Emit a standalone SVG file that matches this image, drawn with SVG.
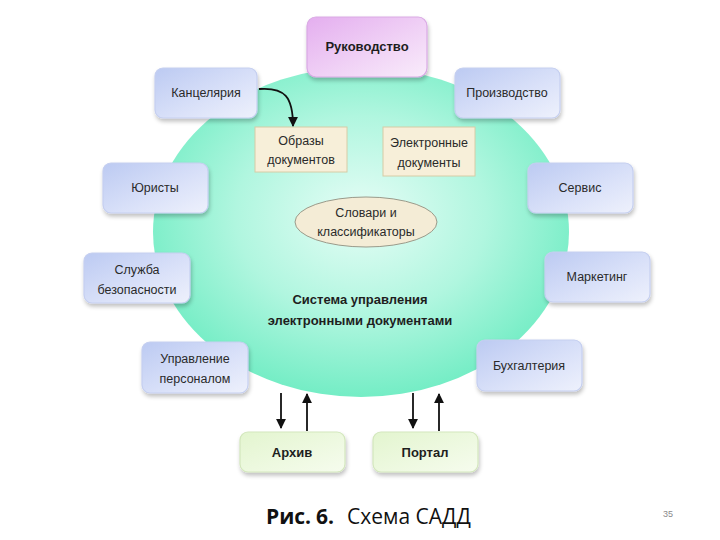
<svg xmlns="http://www.w3.org/2000/svg" width="720" height="540" viewBox="0 0 720 540">
<defs>
<radialGradient id="gEll" cx="50%" cy="45%" r="55%">
<stop offset="0" stop-color="#e6fdf6"/>
<stop offset="0.55" stop-color="#b0f6df"/>
<stop offset="1" stop-color="#74edc5"/>
</radialGradient>
<linearGradient id="gBlue" x1="0" y1="0" x2="1" y2="1">
<stop offset="0" stop-color="#bccaf2"/>
<stop offset="0.6" stop-color="#dbe2f9"/>
<stop offset="1" stop-color="#eef1fc"/>
</linearGradient>
<linearGradient id="gPink" x1="0" y1="0" x2="1" y2="1">
<stop offset="0" stop-color="#e4aeef"/>
<stop offset="0.6" stop-color="#f1d4f6"/>
<stop offset="1" stop-color="#f9ecfb"/>
</linearGradient>
<linearGradient id="gGreen" x1="0" y1="0" x2="1" y2="1">
<stop offset="0" stop-color="#e3f5cf"/>
<stop offset="1" stop-color="#f6fcee"/>
</linearGradient>
<filter id="sh" x="-10%" y="-10%" width="130%" height="140%">
<feGaussianBlur in="SourceAlpha" stdDeviation="2"/>
<feOffset dx="1" dy="3"/>
<feComponentTransfer><feFuncA type="linear" slope="0.25"/></feComponentTransfer>
<feMerge><feMergeNode/><feMergeNode in="SourceGraphic"/></feMerge>
</filter>
<marker id="ah" viewBox="0 0 10 10" refX="9" refY="5" markerWidth="5.5" markerHeight="5.5" orient="auto">
<path d="M0,0 L10,5 L0,10 z" fill="#111"/>
</marker>
<style>
.dept{fill:url(#gBlue);stroke:#c5cff0;stroke-width:1.2;filter:url(#sh)}
.top{fill:url(#gPink);stroke:#d9a9e4;stroke-width:1.2;filter:url(#sh)}
.out{fill:url(#gGreen);stroke:#d3e7bd;stroke-width:1.2;filter:url(#sh)}
.doc{fill:#f7efd9;stroke:#d6cca6;stroke-width:1}
.t{font-family:"Liberation Sans",Arial,sans-serif;font-size:12.5px;fill:#2a2a2a;text-anchor:middle}
.b{font-family:"Liberation Sans",Arial,sans-serif;font-size:13px;font-weight:bold;fill:#1e1e1e;text-anchor:middle}
.line{stroke:#111;stroke-width:1.8;fill:none;marker-end:url(#ah)}
.cap{font-family:"Open Sans","Liberation Sans",sans-serif;font-size:21px;fill:#111}
</style>
</defs>
<rect width="720" height="540" fill="#ffffff"/>

<g id="system">
<ellipse cx="361" cy="232" rx="208" ry="165" fill="url(#gEll)"/>
<text class="b" x="360" y="304">Система управления</text>
<text class="b" x="360" y="325">электронными документами</text>
</g>

<g id="rukovodstvo">
<rect class="top" x="307" y="17" width="120" height="60" rx="9"/>
<text class="b" x="367" y="51">Руководство</text>
</g>
<g id="kancelyariya">
<rect class="dept" x="155" y="68" width="102" height="50" rx="8"/>
<text class="t" x="206" y="97">Канцелярия</text>
</g>
<g id="proizvodstvo">
<rect class="dept" x="455" y="68" width="105" height="50" rx="8"/>
<text class="t" x="507" y="97">Производство</text>
</g>
<g id="yuristy">
<rect class="dept" x="103" y="163" width="105" height="50" rx="8"/>
<text class="t" x="155" y="192">Юристы</text>
</g>
<g id="servis">
<rect class="dept" x="528" y="163" width="105" height="50" rx="8"/>
<text class="t" x="580" y="192">Сервис</text>
</g>
<g id="sluzhba">
<rect class="dept" x="84" y="253" width="106" height="50" rx="8"/>
<text class="t" x="137" y="274">Служба</text>
<text class="t" x="137" y="294">безопасности</text>
</g>
<g id="marketing">
<rect class="dept" x="545" y="252" width="105" height="50" rx="8"/>
<text class="t" x="597" y="281">Маркетинг</text>
</g>
<g id="upravlenie">
<rect class="dept" x="142" y="342" width="106" height="51" rx="8"/>
<text class="t" x="195" y="363">Управление</text>
<text class="t" x="195" y="383">персоналом</text>
</g>
<g id="buhgalteriya">
<rect class="dept" x="477" y="340" width="105" height="51" rx="8"/>
<text class="t" x="529" y="370">Бухгалтерия</text>
</g>
<g id="arhiv">
<rect class="out" x="240" y="432" width="105" height="40" rx="8"/>
<text class="b" x="292" y="457">Архив</text>
</g>
<g id="portal">
<rect class="out" x="373" y="432" width="105" height="40" rx="8"/>
<text class="b" x="425" y="457">Портал</text>
</g>
<g id="obrazy">
<rect class="doc" x="255" y="127" width="92" height="45"/>
<text class="t" x="301" y="145">Образы</text>
<text class="t" x="301" y="164">документов</text>
</g>
<g id="elektronnye">
<rect class="doc" x="383" y="127" width="92" height="49"/>
<text class="t" x="429" y="147">Электронные</text>
<text class="t" x="429" y="167">документы</text>
</g>
<g id="slovari">
<ellipse cx="366" cy="222" rx="71" ry="25" fill="#f4ecd6" stroke="#9a9a8a" stroke-width="1"/>
<text class="t" x="366" y="217">Словари и</text>
<text class="t" x="366" y="236">классификаторы</text>
</g>

<g id="connectors">
<path class="line" d="M259,89 C285,87 293,97 293,126"/>
<line class="line" x1="281" y1="393" x2="281" y2="428"/>
<line class="line" x1="307" y1="431" x2="307" y2="394"/>
<line class="line" x1="413" y1="393" x2="413" y2="428"/>
<line class="line" x1="439" y1="431" x2="439" y2="394"/>
</g>

<g id="caption">
<text class="cap" y="524"><tspan x="266" font-weight="bold">Рис.</tspan><tspan x="316" font-weight="bold">6.</tspan><tspan x="347">Схема САДД</tspan></text>
<text x="663" y="517" font-family="'Liberation Sans',sans-serif" font-size="9" fill="#8a8a8a">35</text>
</g>
</svg>
